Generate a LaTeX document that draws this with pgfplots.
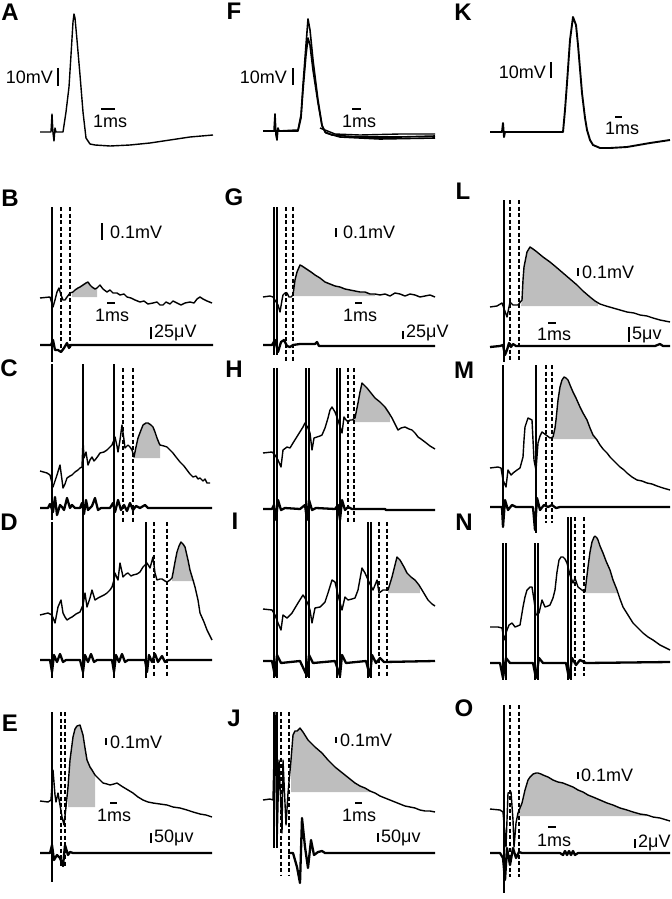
\documentclass[border=0pt]{standalone}
\usepackage{pgfplots}
\pgfplotsset{compat=1.18}
\usepackage{fontspec}
\setmainfont{Liberation Sans}
\definecolor{fillg}{RGB}{190,190,190}
\pgfplotsset{
 tr/.style={black, line width=1.4pt, line join=round, mark=none},
 bt/.style={black, line width=2.3pt, line join=round, mark=none},
 sp/.style={black, line width=2.6pt, mark=none},
 sp2/.style={black, line width=1.7pt, mark=none},
 da/.style={black, line width=1.1pt, dash pattern=on 4pt off 2.5pt, mark=none},
 sb/.style={black, line width=1.3pt, mark=none},
 fl/.style={fill=fillg, draw=none, mark=none},
}
\tikzset{
 pl/.style={font=\fontsize{24}{27}\selectfont\bfseries, inner sep=0pt, anchor=center},
 sl/.style={font=\fontsize{18}{21}\selectfont, inner sep=0pt, anchor=west},
 sr/.style={font=\fontsize{18}{21}\selectfont, inner sep=0pt, anchor=east},
}
\begin{document}
\begin{tikzpicture}
\begin{axis}[scale only axis, width=671pt, height=899pt,
  xmin=0, xmax=671, ymin=0, ymax=899, y dir=reverse,
  axis lines=none, clip=false]
\path (axis cs:0,0) rectangle (axis cs:671,899);
% ---------- fills ----------
\addplot[fl] coordinates {(72,297)(72,292)(75,290)(78,288)(80,287)(83,285)(86,283)(88,282)(90,285)(92,287)(95,289)(97,288)(97,297)};
\addplot[fl] coordinates {(293,296)(293,295)(295,280)(297,272)(300,265)(302,266)(305,268)(308,270)(311,272)(315,275)(320,278)(325,282)(330,284)(335,286)(340,287)(345,289)(350,290)(355,291)(360,292)(365,292)(370,294)(375,294)(375,296)};
\addplot[fl] coordinates {(521,306)(522,300)(523,280)(524,267)(527,252)(530,247)(533,249)(537,252)(543,257)(550,262)(556,267)(563,273)(570,279)(577,285)(583,291)(590,297)(595,301)(598,303)(598,306)};
\addplot[fl] coordinates {(134,458)(134,457)(136,447)(138,438)(141,430)(143,425)(146,423)(148,423)(151,425)(153,427)(155,432)(157,438)(159,443)(160,445)(160,458)};
\addplot[fl] coordinates {(172,581)(172,578)(173,573)(175,562)(177,552)(179,546)(181,542)(183,544)(185,547)(188,560)(190,570)(193,580)(195,581)};
\addplot[fl] coordinates {(68,807)(68,787)(70,760)(73,737)(75,729)(77,726)(80,725)(83,735)(85,748)(87,760)(90,767)(92,770)(95,775)(95,807)};
\addplot[fl] coordinates {(355,422)(355,418)(358,403)(360,392)(362,383)(365,386)(367,388)(371,393)(375,398)(380,402)(385,407)(389,413)(390,415)(390,422)};
\addplot[fl] coordinates {(388,593)(388,590)(392,577)(395,565)(397,557)(400,560)(404,567)(407,573)(411,577)(415,580)(419,585)(420,587)(420,593)};
\addplot[fl] coordinates {(291,792)(291,760)(293,735)(295,731)(297,731)(300,728)(303,732)(308,740)(315,747)(322,753)(328,760)(335,767)(340,771)(345,775)(350,779)(355,783)(360,786)(365,788)(370,791)(372,792)};
\addplot[fl] coordinates {(553,439)(553,437)(555,428)(556,420)(558,400)(560,387)(562,380)(564,377)(566,378)(568,380)(570,385)(573,392)(576,398)(580,407)(583,413)(587,420)(590,428)(593,435)(595,437)(595,439)};
\addplot[fl] coordinates {(586,593)(586,583)(588,567)(590,552)(592,542)(594,537)(595,536)(597,538)(598,540)(600,546)(603,553)(606,561)(610,570)(613,580)(617,590)(617,593)};
\addplot[fl] coordinates {(518,816)(518,813)(520,808)(522,803)(525,790)(528,780)(530,777)(533,774)(536,773)(538,773)(541,774)(543,775)(548,777)(553,780)(558,782)(563,783)(568,785)(573,787)(578,790)(583,792)(588,795)(593,797)(600,800)(607,803)(613,805)(620,808)(627,810)(633,812)(640,814)(647,815)(650,816)};
% ---------- A ----------
\addplot[tr] coordinates {(40,132)(51,132)(52,114)(53,133)(54,141)(55,128)(56,132)(63,132)(66,112)(69,87)(71,55)(73,22)(74,14)(75,18)(77,40)(80,75)(83,112)(86,138)(90,144)(95,145)(110,146)(130,145)(150,143)(170,140)(190,137)(213,135)};
% ---------- F ----------
\addplot[tr, line width=1.6pt] coordinates {(263,131)(274,131)(275,114)(276,135)(277,140)(278,128)(279,131)(298,130)(301,115)(303,85)(306,45)(308,19)(310,30)(313,60)(318,100)(322,125)(325,132)(332,135)(358,137)(400,137)(435,136)};
\addplot[tr, line width=1.6pt] coordinates {(263,131)(298,131)(301,118)(303,90)(306,55)(308,38)(310,45)(313,70)(318,103)(322,126)(326,133)(340,137)(380,139)(435,138)};
\addplot[tr] coordinates {(320,128)(335,134)(360,135)(400,134)(435,134)};
% ---------- K ----------
\addplot[tr, line width=1.9pt] coordinates {(490,132)(502,132)(503,123)(504,137)(505,132)(563,132)(565,110)(567,83)(570,40)(573,17)(576,25)(578,45)(582,93)(585,118)(587,130)(590,140)(593,145)(600,148)(610,148)(627,147)(650,143)(670,140)};
% ---------- B ----------
\addplot[tr] coordinates {(40,298)(50,297)(53,307)(55,300)(57,292)(59,288)(61,295)(63,300)(65,300)(67,297)(70,293)(73,292)(75,290)(78,288)(80,287)(83,285)(86,283)(88,282)(90,285)(92,287)(95,289)(97,288)(100,285)(103,289)(107,292)(110,290)(113,293)(117,293)(120,295)(124,294)(127,297)(131,298)(135,300)(140,302)(144,301)(148,304)(153,303)(157,302)(160,305)(163,305)(166,302)(170,304)(173,301)(177,303)(181,305)(185,303)(190,302)(194,303)(197,299)(200,297)(203,299)(207,301)(212,303)};
\addplot[bt] coordinates {(40,345)(51,345)(53,340)(55,350)(58,350)(61,352)(64,348)(67,343)(69,348)(71,345)(213,345)};
\addplot[sp] coordinates {(52,207)(52,362)};
\addplot[da] coordinates {(61,207)(61,348)};
\addplot[da] coordinates {(70,207)(70,348)};
% ---------- G ----------
\addplot[tr] coordinates {(263,297)(270,296)(273,297)(278,305)(280,312)(282,300)(283,295)(285,293)(287,293)(289,297)(291,297)(293,295)(295,280)(297,272)(300,265)(302,266)(305,268)(308,270)(311,272)(315,275)(320,278)(325,282)(330,284)(335,286)(340,287)(345,289)(350,290)(355,291)(360,292)(365,292)(370,294)(375,294)(380,295)(385,294)(390,296)(395,293)(400,294)(405,296)(410,294)(415,295)(420,297)(425,296)(430,295)(435,297)};
\addplot[bt] coordinates {(263,345)(272,345)(275,340)(278,352)(281,342)(284,340)(287,346)(290,347)(293,345)(300,344)(315,344)(317,342)(319,346)(435,346)};
\addplot[sp2] coordinates {(274,207)(274,355)};
\addplot[sp2] coordinates {(277,207)(277,355)};
\addplot[da] coordinates {(286,207)(286,362)};
\addplot[da] coordinates {(293,207)(293,362)};
% ---------- L ----------
\addplot[tr] coordinates {(490,307)(497,306)(502,303)(507,317)(510,302)(513,305)(518,305)(522,300)(523,280)(524,267)(527,252)(530,247)(533,249)(537,252)(543,257)(550,262)(556,267)(563,273)(570,279)(577,285)(583,291)(590,297)(595,301)(600,304)(606,306)(613,308)(620,310)(627,312)(634,313)(640,315)(647,316)(653,318)(660,320)(670,322)};
\addplot[bt] coordinates {(490,347)(500,346)(503,345)(505,355)(507,350)(509,343)(511,347)(513,344)(516,346)(655,346)(660,344)(663,346)(670,346)};
\addplot[sp] coordinates {(504,200)(504,362)};
\addplot[da] coordinates {(510,200)(510,360)};
\addplot[da] coordinates {(519,200)(519,360)};
% ---------- C ----------
\addplot[tr] coordinates {(40,471)(47,473)(50,475)(53,487)(55,481)(57,475)(60,465)(62,480)(63,488)(65,484)(67,478)(70,476)(72,475)(75,472)(78,470)(80,468)(82,467)(83,440)(84,458)(86,452)(88,465)(90,460)(92,457)(94,461)(95,460)(98,456)(100,453)(104,452)(107,450)(110,447)(112,445)(114,440)(115,437)(117,446)(118,452)(120,440)(122,425)(124,440)(125,448)(127,446)(128,445)(130,447)(132,450)(134,457)(136,447)(138,438)(141,430)(143,425)(146,423)(148,423)(151,425)(153,427)(155,432)(157,438)(159,443)(160,445)(164,446)(167,447)(170,450)(173,453)(176,457)(180,462)(184,466)(187,470)(190,474)(193,477)(196,476)(198,479)(200,478)(203,481)(205,479)(207,483)(210,483)};
\addplot[bt] coordinates {(40,508)(48,508)(50,504)(53,512)(55,497)(57,515)(60,505)(62,507)(64,510)(67,498)(70,508)(72,505)(75,508)(80,508)(82,503)(84,514)(86,500)(88,510)(92,506)(95,498)(98,510)(101,508)(110,508)(113,503)(115,512)(118,500)(121,510)(124,505)(127,511)(130,503)(133,510)(136,506)(140,508)(145,505)(148,508)(212,508)};
\addplot[sp] coordinates {(52,364)(52,520)};
\addplot[sp] coordinates {(83,364)(83,523)};
\addplot[sp] coordinates {(114,364)(114,523)};
\addplot[da] coordinates {(123,368)(123,522)};
\addplot[da] coordinates {(133,368)(133,522)};
% ---------- D ----------
\addplot[tr] coordinates {(40,615)(48,613)(52,615)(55,623)(58,607)(61,600)(63,613)(65,617)(67,620)(70,618)(72,617)(76,614)(80,612)(83,605)(85,593)(87,607)(90,598)(92,590)(95,600)(98,598)(100,597)(104,595)(107,593)(110,590)(112,587)(114,580)(115,573)(117,578)(118,580)(120,563)(122,572)(123,577)(126,574)(128,573)(131,576)(133,575)(137,574)(140,572)(143,567)(147,563)(150,568)(153,557)(155,573)(157,580)(160,579)(162,579)(165,581)(167,582)(170,580)(172,578)(173,573)(175,562)(177,552)(179,546)(181,542)(183,544)(185,547)(188,560)(190,570)(193,580)(195,587)(198,600)(200,613)(204,622)(207,630)(210,636)(212,640)};
\addplot[bt] coordinates {(40,660)(50,660)(52,672)(54,655)(57,662)(60,654)(63,662)(66,660)(80,660)(83,672)(85,655)(88,662)(91,654)(94,662)(97,660)(112,660)(114,672)(116,655)(119,662)(122,654)(125,662)(128,660)(145,660)(147,672)(149,655)(152,662)(155,654)(158,662)(162,656)(165,662)(168,660)(212,660)};
\addplot[sp] coordinates {(52,522)(52,678)};
\addplot[sp] coordinates {(83,522)(83,678)};
\addplot[sp] coordinates {(114,522)(114,678)};
\addplot[sp] coordinates {(146,522)(146,678)};
\addplot[da] coordinates {(154,522)(154,676)};
\addplot[da] coordinates {(167,522)(167,676)};
% ---------- E ----------
\addplot[tr] coordinates {(40,801)(48,802)(51,800)(53,770)(55,795)(56,802)(58,793)(60,805)(62,817)(64,825)(66,807)(68,787)(70,760)(73,737)(75,729)(77,726)(80,725)(83,735)(85,748)(87,760)(90,767)(92,770)(95,775)(97,777)(100,780)(103,783)(107,784)(110,785)(114,784)(117,783)(120,785)(123,787)(128,790)(133,793)(138,797)(143,800)(148,802)(153,803)(160,804)(167,805)(173,807)(180,808)(187,810)(193,812)(200,814)(206,815)(212,817)};
\addplot[bt] coordinates {(40,853)(50,853)(52,845)(54,860)(57,855)(60,858)(63,866)(65,845)(68,855)(70,852)(73,853)(212,853)};
\addplot[sp] coordinates {(52,712)(52,805)};
\addplot[sp2] coordinates {(52,805)(52,882)};
\addplot[da] coordinates {(61,712)(61,867)};
\addplot[da] coordinates {(65,712)(65,867)};
% ---------- H ----------
\addplot[tr] coordinates {(263,453)(272,452)(275,455)(278,460)(281,467)(283,450)(287,447)(290,448)(293,443)(298,435)(303,427)(305,423)(308,428)(310,433)(312,450)(314,438)(317,437)(320,436)(322,435)(325,428)(328,418)(330,410)(332,407)(335,412)(338,420)(342,433)(344,417)(346,420)(348,422)(350,420)(352,420)(355,418)(358,403)(360,392)(362,383)(365,386)(367,388)(371,393)(375,398)(380,402)(385,407)(389,413)(392,418)(395,424)(398,430)(401,428)(405,427)(409,429)(412,430)(415,433)(418,437)(421,439)(425,442)(430,446)(435,449)};
\addplot[bt] coordinates {(263,509)(272,509)(274,505)(276,520)(278,500)(281,510)(285,508)(300,509)(305,505)(307,520)(309,500)(312,510)(316,508)(335,509)(338,505)(340,520)(342,500)(345,510)(348,507)(352,509)(385,509)(386,510)(435,510)};
\addplot[sp2] coordinates {(274,368)(274,523)};
\addplot[sp2] coordinates {(277,368)(277,523)};
\addplot[sp2] coordinates {(306,368)(306,523)};
\addplot[sp2] coordinates {(309,368)(309,523)};
\addplot[sp2] coordinates {(337,368)(337,523)};
\addplot[sp2] coordinates {(340,368)(340,523)};
\addplot[da] coordinates {(348,368)(348,523)};
\addplot[da] coordinates {(354,368)(354,523)};
% ---------- I ----------
\addplot[tr] coordinates {(263,609)(272,610)(275,615)(278,623)(281,630)(283,615)(287,618)(292,613)(298,603)(303,595)(305,598)(308,604)(310,610)(312,623)(315,608)(320,607)(325,602)(328,593)(332,580)(335,582)(338,595)(342,610)(345,597)(348,600)(352,599)(355,598)(358,590)(362,568)(365,573)(369,582)(373,590)(377,580)(379,593)(383,590)(388,590)(392,577)(395,565)(397,557)(400,560)(404,567)(407,573)(411,577)(415,580)(419,585)(422,590)(425,595)(428,600)(432,604)(435,606)};
\addplot[bt] coordinates {(263,661)(272,661)(275,676)(277,655)(281,663)(300,661)(307,676)(309,655)(313,663)(335,661)(340,676)(342,655)(346,663)(366,661)(370,676)(372,655)(376,663)(380,658)(384,662)(435,661)};
\addplot[sp2] coordinates {(274,522)(274,678)};
\addplot[sp2] coordinates {(277,522)(277,678)};
\addplot[sp2] coordinates {(306,522)(306,678)};
\addplot[sp2] coordinates {(309,522)(309,678)};
\addplot[sp2] coordinates {(337,522)(337,678)};
\addplot[sp2] coordinates {(340,522)(340,678)};
\addplot[sp2] coordinates {(368,522)(368,678)};
\addplot[sp2] coordinates {(371,522)(371,678)};
\addplot[da] coordinates {(379,522)(379,676)};
\addplot[da] coordinates {(387,522)(387,676)};
% ---------- J ----------
\addplot[tr] coordinates {(263,800)(270,799)(273,800)(275,712)(277,847)(279,760)(282,833)(283,760)(286,825)(288,793)(291,760)(293,735)(295,731)(297,731)(300,728)(303,732)(308,740)(315,747)(322,753)(328,760)(335,767)(340,771)(345,775)(350,779)(355,783)(360,786)(365,788)(370,791)(375,793)(380,796)(385,798)(390,800)(395,802)(400,804)(405,806)(410,807)(415,808)(420,810)(425,811)(430,811)(435,812)};
\addplot[bt] coordinates {(288,853)(293,853)(297,867)(300,883)(302,818)(305,847)(308,868)(311,840)(314,855)(318,852)(322,851)(325,853)(435,853)};
\addplot[sp2] coordinates {(274,712)(274,848)};
\addplot[sp2] coordinates {(277,712)(277,848)};
\addplot[da] coordinates {(281,712)(281,875)};
\addplot[da] coordinates {(289,712)(289,875)};
% ---------- M ----------
\addplot[tr] coordinates {(490,468)(498,467)(501,468)(503,480)(506,487)(508,470)(511,475)(513,473)(517,470)(520,468)(523,457)(524,440)(525,427)(528,418)(532,420)(533,440)(534,460)(536,470)(538,443)(540,436)(542,432)(546,435)(550,438)(553,437)(555,428)(556,420)(558,400)(560,387)(562,380)(564,377)(566,378)(568,380)(570,385)(573,392)(576,398)(580,407)(583,413)(587,420)(590,428)(593,435)(597,440)(600,445)(603,449)(607,453)(610,457)(613,460)(617,464)(620,467)(624,470)(627,473)(632,477)(637,480)(642,481)(647,483)(652,484)(657,486)(663,488)(670,490)};
\addplot[bt] coordinates {(490,507)(500,507)(502,507)(503,527)(505,500)(508,510)(512,505)(516,507)(533,507)(535,530)(537,498)(540,510)(544,505)(548,507)(552,505)(556,508)(560,507)(670,507)};
\addplot[sp2] coordinates {(503,365)(503,527)};
\addplot[sp2] coordinates {(536,365)(536,533)};
\addplot[da] coordinates {(546,365)(546,523)};
\addplot[da] coordinates {(552,365)(552,523)};
% ---------- N ----------
\addplot[tr] coordinates {(490,627)(498,627)(502,628)(504,640)(507,630)(509,625)(512,623)(515,627)(520,625)(523,607)(525,597)(527,590)(530,587)(532,587)(534,600)(536,615)(539,613)(542,600)(545,607)(548,606)(550,605)(553,598)(555,590)(557,572)(559,560)(561,557)(563,557)(565,559)(567,563)(570,575)(573,583)(575,578)(578,587)(582,590)(585,592)(588,567)(590,552)(592,542)(594,537)(595,536)(597,538)(598,540)(600,546)(603,553)(606,561)(610,570)(613,580)(617,590)(620,599)(623,607)(628,615)(633,623)(638,628)(643,633)(648,637)(653,640)(660,645)(670,650)};
\addplot[bt] coordinates {(490,663)(500,663)(503,678)(506,658)(510,663)(533,663)(536,678)(539,658)(543,663)(566,663)(569,678)(572,658)(576,665)(580,660)(586,663)(670,662)};
\addplot[sp2] coordinates {(503,543)(503,680)};
\addplot[sp2] coordinates {(506,543)(506,680)};
\addplot[sp2] coordinates {(535,543)(535,680)};
\addplot[sp2] coordinates {(538,543)(538,680)};
\addplot[sp2] coordinates {(568,517)(568,680)};
\addplot[sp2] coordinates {(571,517)(571,680)};
\addplot[da] coordinates {(575,517)(575,676)};
\addplot[da] coordinates {(584,517)(584,676)};
% ---------- O ----------
\addplot[tr] coordinates {(490,809)(500,810)(503,812)(506,847)(508,793)(511,792)(513,820)(514,847)(516,823)(518,813)(520,808)(522,803)(525,790)(528,780)(530,777)(533,774)(536,773)(538,773)(541,774)(543,775)(548,777)(553,780)(558,782)(563,783)(568,785)(573,787)(578,790)(583,792)(588,795)(593,797)(600,800)(607,803)(613,805)(620,808)(627,810)(633,812)(640,814)(647,815)(653,817)(660,818)(670,821)};
\addplot[bt] coordinates {(490,853)(500,853)(503,858)(505,880)(507,848)(510,865)(513,848)(516,858)(519,852)(522,853)(560,853)(563,855)(565,851)(567,855)(569,851)(571,855)(573,851)(575,855)(578,853)(670,853)};
\addplot[sp] coordinates {(504,705)(504,893)};
\addplot[da] coordinates {(510,705)(510,877)};
\addplot[da] coordinates {(519,705)(519,877)};
% ---------- scale bars ----------
\addplot[sb] coordinates {(58,68)(58,86)};
\addplot[sb] coordinates {(101,109)(115,109)};
\addplot[sb] coordinates {(293,68)(293,85)};
\addplot[sb] coordinates {(352,109)(361,109)};
\addplot[sb] coordinates {(551,62)(551,78)};
\addplot[sb] coordinates {(615,117)(622,117)};
\addplot[sb] coordinates {(102,223)(102,240)};
\addplot[sb] coordinates {(107,303)(115,303)};
\addplot[sb] coordinates {(151,327)(151,339)};
\addplot[sb] coordinates {(336,228)(336,237)};
\addplot[sb] coordinates {(355,303)(362,303)};
\addplot[sb] coordinates {(403,331)(403,339)};
\addplot[sb] coordinates {(578,268)(578,276)};
\addplot[sb] coordinates {(548,323)(556,323)};
\addplot[sb] coordinates {(629,327)(629,342)};
\addplot[sb] coordinates {(106,738)(106,745)};
\addplot[sb] coordinates {(110,803)(117,803)};
\addplot[sb] coordinates {(151,833)(151,843)};
\addplot[sb] coordinates {(336,737)(336,743)};
\addplot[sb] coordinates {(355,803)(362,803)};
\addplot[sb] coordinates {(378,833)(378,842)};
\addplot[sb] coordinates {(578,772)(578,779)};
\addplot[sb] coordinates {(548,827)(556,827)};
\addplot[sb] coordinates {(635,839)(635,848)};
% ---------- texts ----------
\node[pl] at (axis cs:10,12) {A};
\node[pl] at (axis cs:234,11) {F};
\node[pl] at (axis cs:463,12) {K};
\node[pl] at (axis cs:10,198) {B};
\node[pl] at (axis cs:234,197) {G};
\node[pl] at (axis cs:463,191) {L};
\node[pl] at (axis cs:9,368) {C};
\node[pl] at (axis cs:234,369) {H};
\node[pl] at (axis cs:464,370) {M};
\node[pl] at (axis cs:9,522) {D};
\node[pl] at (axis cs:235,521) {I};
\node[pl] at (axis cs:464,522) {N};
\node[pl] at (axis cs:10,723) {E};
\node[pl] at (axis cs:234,718) {J};
\node[pl] at (axis cs:464,708) {O};
\node[sr] at (axis cs:53,77) {10mV};
\node[sl] at (axis cs:93,121) {1ms};
\node[sr] at (axis cs:287,77) {10mV};
\node[sl] at (axis cs:342,121) {1ms};
\node[sr] at (axis cs:546,72) {10mV};
\node[sl] at (axis cs:605,128) {1ms};
\node[sl] at (axis cs:110,232) {0.1mV};
\node[sl] at (axis cs:95,315) {1ms};
\node[sl] at (axis cs:154,333) {25μV};
\node[sl] at (axis cs:343,232) {0.1mV};
\node[sl] at (axis cs:343,315) {1ms};
\node[sl] at (axis cs:406,333) {25μV};
\node[sl] at (axis cs:582,272) {0.1mV};
\node[sl] at (axis cs:537,334) {1ms};
\node[sl] at (axis cs:632,335) {5μv};
\node[sl] at (axis cs:110,742) {0.1mV};
\node[sl] at (axis cs:97,815) {1ms};
\node[sl] at (axis cs:154,838) {50μv};
\node[sl] at (axis cs:340,740) {0.1mV};
\node[sl] at (axis cs:342,815) {1ms};
\node[sl] at (axis cs:381,838) {50μv};
\node[sl] at (axis cs:581,775) {0.1mV};
\node[sl] at (axis cs:537,840) {1ms};
\node[sl] at (axis cs:638,843) {2μV};
\end{axis}
\end{tikzpicture}
\end{document}
